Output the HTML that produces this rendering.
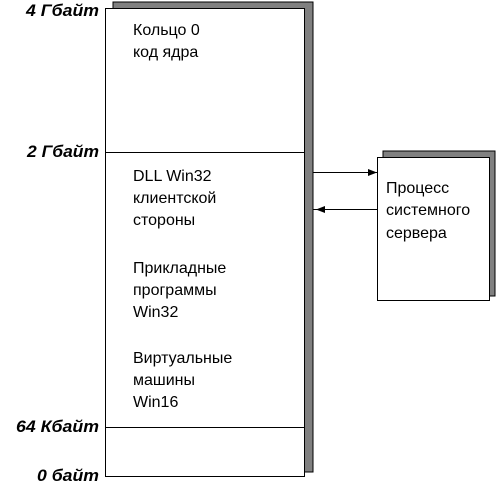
<!DOCTYPE html>
<html><head><meta charset="utf-8"><style>
body{margin:0;background:#fff;width:500px;height:485px;overflow:hidden}
svg{display:block}
.t{font-family:"Liberation Sans",sans-serif;font-size:16px;fill:#000}
.l{font-family:"Liberation Sans",sans-serif;font-size:17px;font-weight:bold;font-style:italic;fill:#000}
</style></head><body>
<svg width="500" height="485" viewBox="0 0 500 485">
<rect x="113" y="2" width="200" height="470" fill="#808080" stroke="#000" stroke-width="1"/>
<rect x="105.5" y="8.5" width="199" height="468" fill="#fff" stroke="#000" stroke-width="1"/>
<line x1="105" y1="152.5" x2="305" y2="152.5" stroke="#000"/>
<line x1="105" y1="427.5" x2="305" y2="427.5" stroke="#000"/>
<g class="l" text-anchor="end">
<text x="99" y="16" textLength="73" lengthAdjust="spacingAndGlyphs">4 Гбайт</text>
<text x="99" y="157" textLength="72" lengthAdjust="spacingAndGlyphs">2 Гбайт</text>
<text x="99" y="432" textLength="83" lengthAdjust="spacingAndGlyphs">64 Кбайт</text>
<text x="99" y="481" textLength="62" lengthAdjust="spacingAndGlyphs">0 байт</text>
</g>
<g class="t">
<text x="133" y="35">Кольцо 0</text>
<text x="133" y="57">код ядра</text>
<text x="133" y="181">DLL Win32</text>
<text x="133" y="203">клиентской</text>
<text x="133" y="225">стороны</text>
<text x="133" y="273">Прикладные</text>
<text x="133" y="295">программы</text>
<text x="133" y="317">Win32</text>
<text x="133" y="363">Виртуальные</text>
<text x="133" y="385">машины</text>
<text x="133" y="407">Win16</text>
</g>
<rect x="383" y="151" width="112" height="145" fill="#808080" stroke="#000"/>
<rect x="377.5" y="157.5" width="112" height="143" fill="#fff" stroke="#000"/>
<g class="t">
<text x="386" y="193">Процесс</text>
<text x="386" y="215">системного</text>
<text x="386" y="238">сервера</text>
</g>
<line x1="313" y1="172.5" x2="377" y2="172.5" stroke="#000"/>
<polygon points="377,172.5 368,169 368,176" fill="#000"/>
<line x1="313" y1="209.5" x2="377" y2="209.5" stroke="#000"/>
<polygon points="316,209.5 325,206 325,213" fill="#000"/>
</svg>
</body></html>
